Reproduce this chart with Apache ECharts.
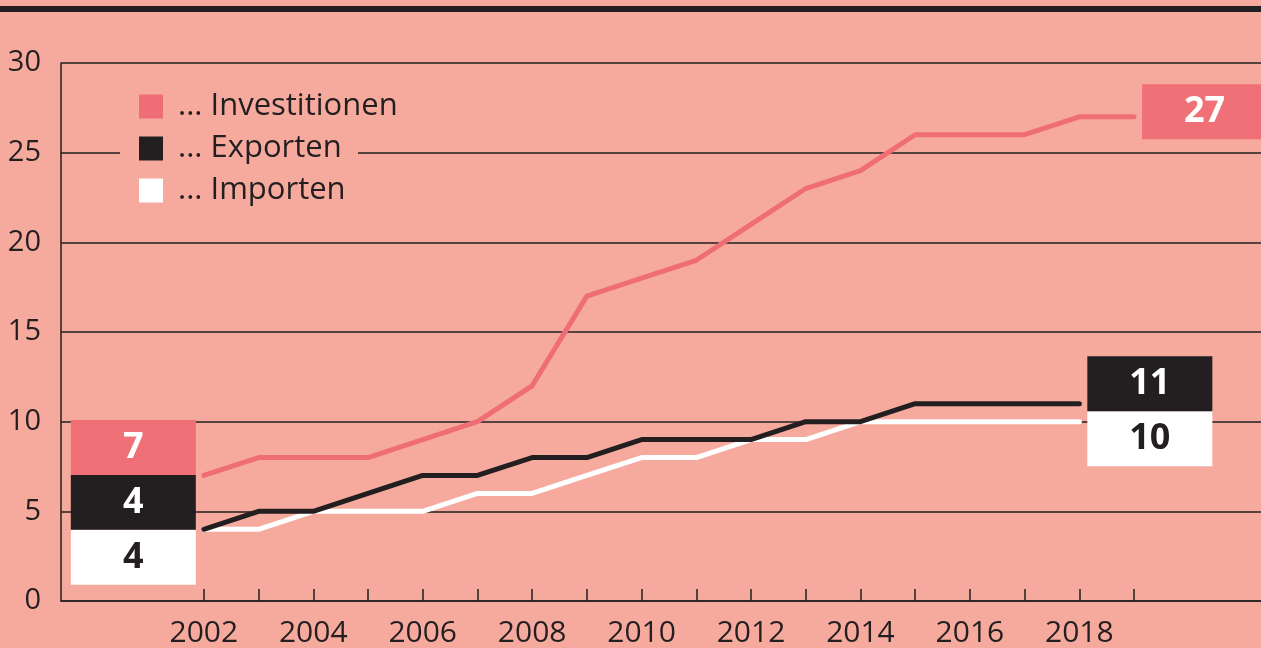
<!DOCTYPE html>
<html>
<head>
<meta charset="utf-8">
<script src="https://cdn.jsdelivr.net/npm/echarts@6/dist/echarts.min.js"></script>
<style>
html, body { margin: 0; padding: 0; background: #f6aa9e; }
#chart { width: 1261px; height: 648px; }
</style>
</head>
<body>
<div id="chart"></div>
<script>
var chart = echarts.init(document.getElementById('chart'));

const years = [2002, 2003, 2004, 2005, 2006, 2007, 2008, 2009, 2010, 2011, 2012, 2013, 2014, 2015, 2016, 2017, 2018, 2019];
const labelYears = [2002, 2004, 2006, 2008, 2010, 2012, 2014, 2016, 2018];
const investitionen = [7, 8, 8, 8, 9, 10, 12, 17, 18, 19, 21, 23, 24, 26, 26, 26, 27, 27];
const exporten = [4, 5, 5, 6, 7, 7, 8, 8, 9, 9, 9, 10, 10, 11, 11, 11, 11];
const importen = [4, 4, 5, 5, 5, 6, 6, 7, 8, 8, 9, 9, 10, 10, 10, 10, 10];

const ink = '#231f20';
const pink = '#ef6e75';
const boxPink = '#f07078';
const bg = '#f6aa9e';

function boxLabel(text, pos, dy, fill, textColor) {
  return {
    show: true,
    position: pos,
    distance: 8,
    offset: [0, dy],
    formatter: '{a|' + text + '}',
    backgroundColor: fill,
    rich: {
      a: {
        width: 125,
        height: 55,
        lineHeight: 55,
        align: 'center',
        fontSize: 36,
        fontWeight: 'bold',
        fontFamily: 'Open Sans',
        color: textColor
      }
    }
  };
}

// pair values with years, box labels on first and last points
function build(vals, firstLabel, lastLabel) {
  return vals.map(function (v, i) {
    var item = { value: [years[i], v] };
    if (i === 0 && firstLabel) item.label = firstLabel;
    if (i === vals.length - 1 && lastLabel) item.label = lastLabel;
    return item;
  });
}

function lineSeries(name, vals, color, z, firstLabel, lastLabel) {
  return {
    name: name,
    type: 'line',
    z: z,
    data: build(vals, firstLabel, lastLabel),
    symbol: 'circle',
    symbolSize: 0,
    showSymbol: true,
    silent: true,
    clip: false,
    itemStyle: { color: color },
    lineStyle: { color: color, width: 5, cap: 'round', join: 'round' },
    emphasis: { disabled: true }
  };
}

var option = {
  backgroundColor: bg,
  animation: false,
  textStyle: { fontFamily: 'Open Sans', color: ink },
  grid: { left: 61, right: 0, top: 63, bottom: 47 },
  graphic: [
    { type: 'rect', left: 0, top: 6, z: 10, shape: { width: 1261, height: 6 }, style: { fill: ink } },
    { type: 'rect', left: 120, top: 146, z: 3, shape: { width: 238, height: 14 }, style: { fill: bg } }
  ],
  legend: {
    orient: 'vertical',
    left: 139,
    top: 91,
    z: 10,
    selectedMode: false,
    icon: 'rect',
    itemWidth: 24,
    itemHeight: 24,
    itemGap: 11,
    padding: 0,
    textStyle: { fontSize: 31, color: ink, lineHeight: 24, padding: [0, 0, 0, 10] },
    data: ['... Investitionen', '... Exporten', '... Importen']
  },
  xAxis: {
    type: 'value',
    min: 1999.39,
    max: 2021.32,
    splitLine: { show: false },
    axisLine: { show: true, lineStyle: { color: ink, width: 1.5 } },
    axisTick: { show: true, inside: true, length: 12, customValues: years, lineStyle: { color: ink, width: 1.5 } },
    axisLabel: { customValues: labelYears, fontSize: 30, color: ink, margin: 17, formatter: function (v) { return String(v); } }
  },
  yAxis: {
    type: 'value',
    min: 0,
    max: 30,
    interval: 5,
    axisLine: { show: true, lineStyle: { color: ink, width: 1.5 } },
    axisTick: { show: false },
    axisLabel: { fontSize: 29, color: ink, margin: 20, padding: [6, 0, 0, 0] },
    splitLine: { lineStyle: { color: ink, width: 1.5 } }
  },
  series: [
    lineSeries('... Investitionen', investitionen, pink, 5,
      boxLabel('7', 'left', -28, boxPink, '#fff'),
      boxLabel('27', 'right', -5, boxPink, '#fff')),
    lineSeries('... Exporten', exporten, ink, 4,
      boxLabel('4', 'left', -27, ink, '#fff'),
      boxLabel('11', 'right', -20, ink, '#fff')),
    lineSeries('... Importen', importen, '#ffffff', 3,
      boxLabel('4', 'left', 28, '#ffffff', ink),
      boxLabel('10', 'right', 17, '#ffffff', ink))
  ]
};

option && chart.setOption(option);
</script>
</body>
</html>
